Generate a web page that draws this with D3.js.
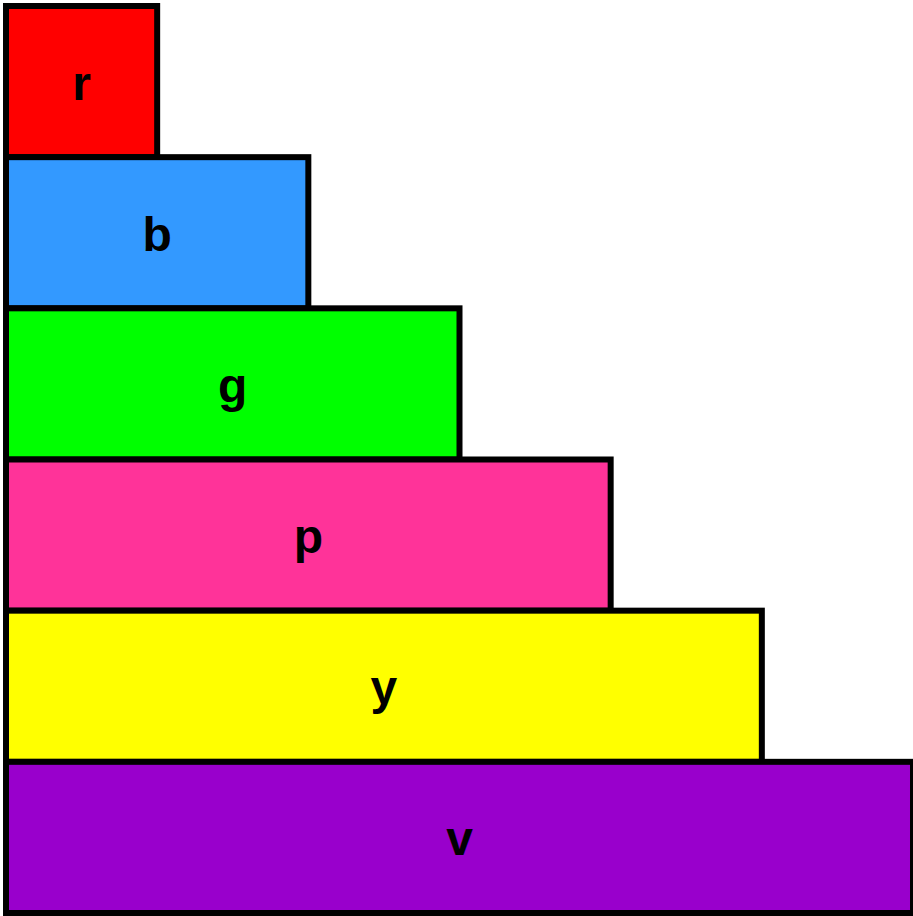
<!DOCTYPE html>
<html>
<head>
<meta charset="utf-8">
<script src="https://cdn.jsdelivr.net/npm/d3@7"></script>
<style>
  html, body { margin: 0; padding: 0; background: #fff; }
  svg { display: block; }
</style>
</head>
<body>
<svg id="chart" width="913" height="916"></svg>
<script>
const categories = ["r", "b", "g", "p", "y", "v"];
const values = [1, 2, 3, 4, 5, 6];
const colors = ["#ff0000", "#3399ff", "#00ff00", "#ff3399", "#ffff00", "#9900cc"];

(function () {
  const svg = d3.select("#chart");
  const mLeft = 6, mRight = 913, mTop = 6, mBottom = 913;

  const x = d3.scaleLinear().domain([0, d3.max(values)]).range([mLeft, mRight]);
  const y = d3.scaleBand().domain(categories).range([mTop, mBottom]).padding(0);

  const data = categories.map((c, i) => ({ c, v: values[i], col: colors[i] }));

  svg.selectAll("rect.bar")
    .data(data)
    .join("rect")
    .attr("class", "bar")
    .attr("x", x(0))
    .attr("y", d => y(d.c))
    .attr("width", d => x(d.v) - x(0))
    .attr("height", y.bandwidth())
    .attr("fill", d => d.col)
    .attr("stroke", "#000")
    .attr("stroke-width", 6);

  svg.selectAll("text.lbl")
    .data(data)
    .join("text")
    .attr("class", "lbl")
    .attr("x", d => (x(0) + x(d.v)) / 2)
    .attr("y", d => y(d.c) + y.bandwidth() / 2 + 18)
    .attr("text-anchor", "middle")
    .attr("font-family", "Liberation Sans, Arial, sans-serif")
    .attr("font-weight", "bold")
    .attr("font-size", 48)
    .attr("fill", "#000")
    .text(d => d.c);
})();
</script>
</body>
</html>
